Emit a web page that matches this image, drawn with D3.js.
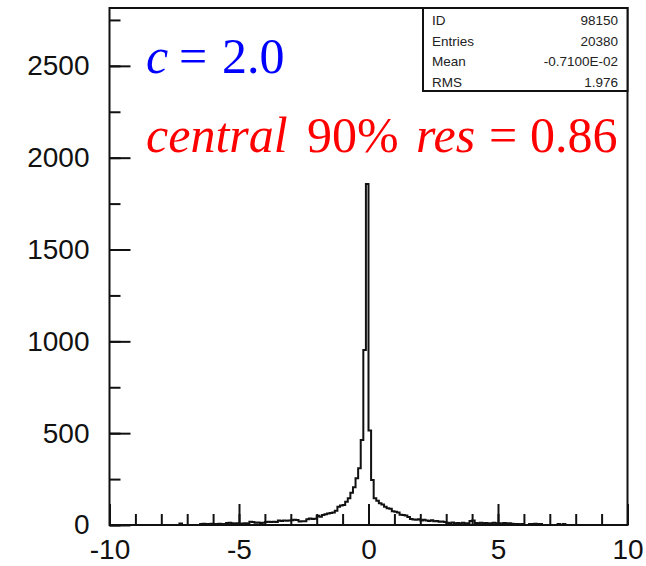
<!DOCTYPE html>
<html>
<head>
<meta charset="utf-8">
<script src="https://cdn.jsdelivr.net/npm/d3@7"></script>
<style>
  body { margin: 0; background: #fff; }
  svg { display: block; }
</style>
</head>
<body>
<script>
// Histogram: 200 bins of 0.1 from -10 to 10, one row per unit
var binLow = -10, binWidth = 0.1;
var counts = [].concat(
    [0, 0, 0, 0, 0, 0, 0, 0, 0, 0],             // -10 .. -9
    [0, 0, 0, 0, 0, 0, 0, 0, 0, 0],             // -9 .. -8
    [0, 0, 0, 0, 0, 0, 0, 8, 0, 0],             // -8 .. -7
    [0, 0, 0, 0, 0, 6, 7, 5, 6, 7],             // -7 .. -6
    [6, 5, 7, 6, 6, 11, 12, 10, 8, 9],          // -6 .. -5
    [7, 8, 9, 8, 18, 17, 12, 13, 11, 12],       // -5 .. -4
    [17, 18, 16, 18, 17, 24, 22, 25, 23, 24],   // -4 .. -3
    [26, 28, 27, 19, 21, 20, 31, 35, 33, 34],   // -3 .. -2
    [50, 45, 55, 58, 62, 66, 68, 78, 100, 106], // -2 .. -1
    [109, 127, 145, 176, 205, 254, 309, 463, 953, 1857], // -1 .. 0
    [514, 245, 145, 132, 118, 112, 100, 91, 88, 75],     // 0 .. 1
    [72, 68, 56, 54, 52, 44, 33, 30, 28, 31],   // 1 .. 2
    [25, 28, 24, 22, 26, 20, 22, 18, 19, 16],   // 2 .. 3
    [12, 10, 13, 9, 11, 8, 12, 10, 9, 22],      // 3 .. 4
    [25, 11, 9, 12, 10, 11, 8, 10, 12, 9],      // 4 .. 5
    [10, 8, 11, 9, 10, 7, 5, 6, 4, 5],          // 5 .. 6
    [0, 0, 6, 5, 7, 6, 5, 0, 0, 0],             // 6 .. 7
    [0, 0, 0, 5, 0, 5, 0, 0, 0, 0],             // 7 .. 8
    [0, 0, 0, 0, 0, 0, 0, 0, 0, 0],             // 8 .. 9
    [0, 0, 0, 0, 0, 0, 0, 0, 0, 0]              // 9 .. 10
);

var xTicks = [-10, -5, 0, 5, 10];
var yTicks = [0, 500, 1000, 1500, 2000, 2500];

var statLabels = ["ID", "Entries", "Mean", "RMS"];
var statValues = ["98150", "20380", "-0.7100E-02", "1.976"];

var width = 646, height = 566;
var margin = { top: 8, right: 18.5, bottom: 41, left: 109.5 };

const svg = d3.select("body")
    .append("svg")
    .attr("width", width)
    .attr("height", height);

// Scales
var x = d3.scaleLinear()
    .domain([-10, 10])
    .range([margin.left, width - margin.right]);
var y = d3.scaleLinear()
    .domain([0, 2815])
    .range([height - margin.bottom, margin.top]);

var ink = "#111";
var sans = "'Liberation Sans', Arial, sans-serif";
var plain = d => String(d);   // plain hyphen minus, no thousands separator

// Minor ticks (inward)
svg.append("g")
    .attr("transform", `translate(0,${height - margin.bottom})`)
    .call(d3.axisBottom(x).tickValues(d3.range(-10, 11, 1)).tickSize(-11).tickFormat(""))
    .call(g => g.select(".domain").remove())
    .call(g => g.selectAll(".tick line").attr("stroke", ink).attr("stroke-width", 2));
svg.append("g")
    .attr("transform", `translate(${margin.left},0)`)
    .call(d3.axisLeft(y).tickValues(d3.range(0, 2800, 250)).tickSize(-11).tickFormat(""))
    .call(g => g.select(".domain").remove())
    .call(g => g.selectAll(".tick line").attr("stroke", ink).attr("stroke-width", 2));

// Major ticks + labels
svg.append("g")
    .attr("transform", `translate(0,${height - margin.bottom})`)
    .call(d3.axisBottom(x).tickValues(xTicks).tickSize(-21).tickPadding(14).tickFormat(plain))
    .call(g => g.select(".domain").remove())
    .call(g => g.selectAll(".tick line").attr("stroke", ink).attr("stroke-width", 2))
    .call(g => g.selectAll(".tick text")
        .attr("fill", "#111")
        .style("font-family", sans)
        .style("font-size", "28px"));
svg.append("g")
    .attr("transform", `translate(${margin.left},0)`)
    .call(d3.axisLeft(y).tickValues(yTicks).tickSize(-21).tickPadding(20).tickFormat(plain))
    .call(g => g.select(".domain").remove())
    .call(g => g.selectAll(".tick line").attr("stroke", ink).attr("stroke-width", 2))
    .call(g => g.selectAll(".tick text")
        .attr("fill", "#111")
        .style("font-family", sans)
        .style("font-size", "28px"));

// Histogram outline
var pts = counts.map((c, i) => [binLow + i * binWidth, c]);
pts.push([binLow + counts.length * binWidth, counts[counts.length - 1]]);
var line = d3.line()
    .x(d => x(d[0]))
    .y(d => y(d[1]))
    .curve(d3.curveStepAfter);
svg.append("path")
    .datum(pts)
    .attr("d", line)
    .attr("fill", "none")
    .attr("stroke", ink)
    .attr("stroke-width", 2);

// Frame
svg.append("rect")
    .attr("x", x(-10))
    .attr("y", y(2815))
    .attr("width", x(10) - x(-10))
    .attr("height", y(0) - y(2815))
    .attr("fill", "none")
    .attr("stroke", ink)
    .attr("stroke-width", 2);

// Stats box
var box = svg.append("g");
box.append("rect")
    .attr("x", 423)
    .attr("y", y(2815))
    .attr("width", x(10) - 423)
    .attr("height", 91 - y(2815))
    .attr("fill", "#fff")
    .attr("stroke", ink)
    .attr("stroke-width", 2);
box.selectAll("text.lab")
    .data(statLabels)
    .join("text")
        .attr("class", "lab")
        .attr("x", 432)
        .attr("y", (d, i) => 25 + i * 20.5)
        .attr("fill", "#222")
        .style("font-family", sans)
        .style("font-size", "13.5px")
        .text(d => d);
box.selectAll("text.val")
    .data(statValues)
    .join("text")
        .attr("class", "val")
        .attr("x", 618)
        .attr("y", (d, i) => 25 + i * 20.5)
        .attr("text-anchor", "end")
        .attr("fill", "#222")
        .style("font-family", sans)
        .style("font-size", "13.5px")
        .text(d => d);

// Annotations
var serif = "'Liberation Serif', 'Times New Roman', serif";
var blue = svg.append("text")
    .attr("y", 73)
    .attr("fill", "#0000ff")
    .style("font-family", serif)
    .style("font-size", "50px");
blue.append("tspan").attr("x", 146).style("font-style", "italic").text("c");
blue.append("tspan").attr("x", 179).text("=");
blue.append("tspan").attr("x", 222).text("2.0");

var red = svg.append("text")
    .attr("y", 152)
    .attr("fill", "#ff0000")
    .style("font-family", serif)
    .style("font-size", "50px");
red.append("tspan").attr("x", 146).style("font-style", "italic").text("central");
red.append("tspan").attr("x", 307).text("90%");
red.append("tspan").attr("x", 416).style("font-style", "italic").text("res");
red.append("tspan").attr("x", 489).text("=");
red.append("tspan").attr("x", 530).text("0.86");
</script>
</body>
</html>
